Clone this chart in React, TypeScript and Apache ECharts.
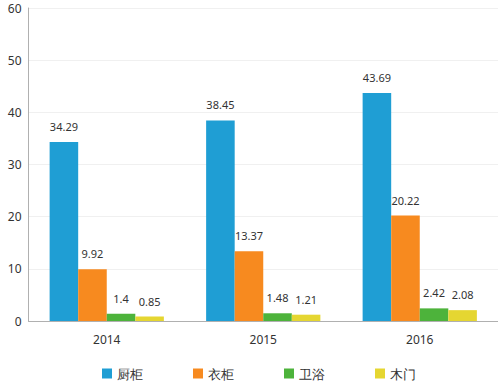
import React, { useEffect, useRef } from "react";
import * as echarts from "echarts";

const categories = ["2014", "2015", "2016"];
const seriesNames = ["厨柜", "衣柜", "卫浴", "木门"];
const kitchen = [34.29, 38.45, 43.69];
const wardrobe = [9.92, 13.37, 20.22];
const bath = [1.4, 1.48, 2.42];
const door = [0.85, 1.21, 2.08];
const colors = ["#1f9ed4", "#f78a1f", "#4db33b", "#e5d631"];

export default function App() {
  const ref = useRef<HTMLDivElement>(null);
  useEffect(() => {
    if (!ref.current) return;
    const chart = echarts.init(ref.current, undefined, { renderer: "svg" });
    const data = [kitchen, wardrobe, bath, door];
    chart.setOption({
      animation: false,
      color: colors,
      textStyle: { fontFamily: "Noto Sans" },
      grid: { left: 28.5, right: -4, top: 8, bottom: 66, containLabel: false },
      legend: {
        bottom: 2,
        left: 97,
        itemWidth: 10,
        itemHeight: 10,
        itemGap: 50,
        icon: "rect",
        textStyle: { color: "#333", fontSize: 13 },
        data: seriesNames,
      },
      xAxis: {
        type: "category",
        data: categories,
        axisLine: { lineStyle: { color: "#b0b0b0" } },
        axisTick: { show: false },
        axisLabel: { color: "#333", fontSize: 12, margin: 12 },
      },
      yAxis: {
        type: "value",
        min: 0,
        max: 60,
        interval: 10,
        axisLine: { show: true, lineStyle: { color: "#b0b0b0" } },
        axisTick: { show: false },
        axisLabel: { color: "#333", fontSize: 12, margin: 7 },
        splitLine: { lineStyle: { color: "#f0f0f0" } },
      },
      series: seriesNames.map((name, i) => ({
        name,
        type: "bar",
        data: data[i],
        barGap: "0%",
        barCategoryGap: "27%",
        label: {
          show: true,
          position: "top",
          distance: 10,
          color: "#333",
          fontSize: 11,
        },
      })),
    });
    return () => chart.dispose();
  }, []);
  return <div ref={ref} style={{ width: 498, height: 387, position: "absolute", left: 0, top: 0 }} />;
}
